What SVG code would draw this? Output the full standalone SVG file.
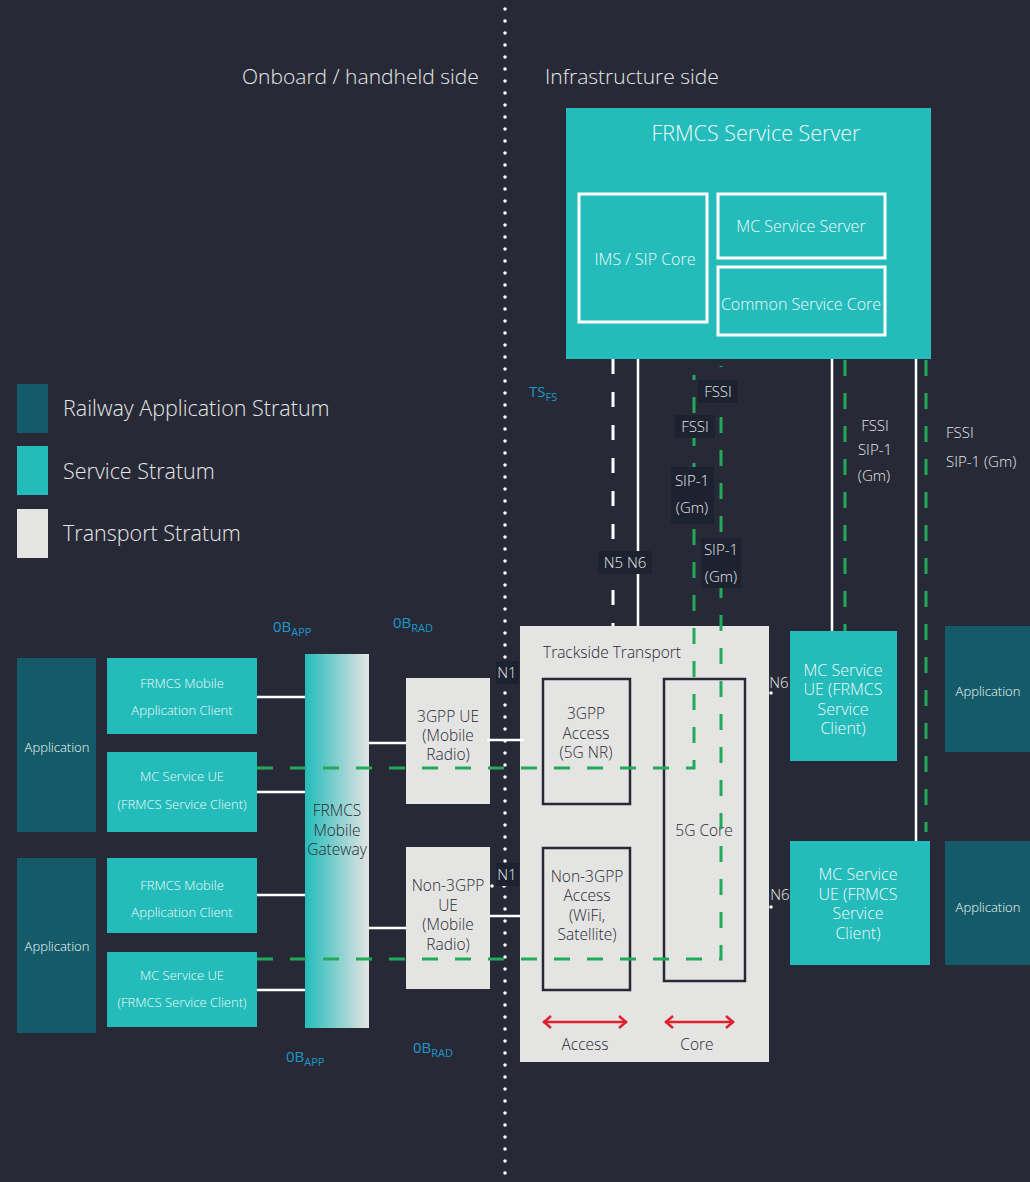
<svg xmlns="http://www.w3.org/2000/svg" width="1030" height="1182" viewBox="0 0 1030 1182">
<style>
text{font-family:"Open Sans","Noto Sans","Liberation Sans",sans-serif;font-weight:300}
.h{fill:#e6e6e8;font-size:21px}
.lg{fill:#e6e6e8;font-size:21.5px}
.w{fill:#f2fafa;text-anchor:middle}
.d{fill:#272a36;text-anchor:middle;font-size:15.5px}
.lab{fill:#e6e6e8;font-size:15px;text-anchor:middle}
.labs{fill:#e6e6e8;font-size:15px;text-anchor:start}
.blue{fill:#1e97c8;font-size:15px;font-weight:400}
.sub{font-size:11px}
.rail{fill:#145a68}
.svc{fill:#23bcba}
.trn{fill:#e4e4e2}
.inner{fill:none;stroke:#ffffff;stroke-width:3}
.inner2{fill:none;stroke:#272a36;stroke-width:2.5}
.wl{stroke:#ffffff;stroke-width:2.5;fill:none}
.wd{stroke:#ffffff;stroke-width:3;fill:none;stroke-dasharray:15 18}
.gd{stroke:#22a95a;stroke-width:3;fill:none;stroke-dasharray:16 17}
.dot{stroke:#ffffff;stroke-width:3.5;fill:none;stroke-linecap:round;stroke-dasharray:0 12}
.lbg{fill:#1d2230}
.red{stroke:#e0202e;stroke-width:2.5;fill:none}
</style>
<defs>
<linearGradient id="gw" x1="0" y1="0" x2="1" y2="0">
<stop offset="0" stop-color="#23bcba"/>
<stop offset="1" stop-color="#e4e4e2"/>
</linearGradient>
</defs>
<rect width="1030" height="1182" fill="#272a36"/>

<line class="dot" x1="505" y1="9" x2="505" y2="1182"/>
<text class="h" x="242" y="84">Onboard / handheld side</text>
<text class="h" x="545" y="84">Infrastructure side</text>

<g id="legend">
<rect class="rail" x="17" y="384" width="31" height="49"/>
<rect class="svc" x="17" y="446" width="31" height="49"/>
<rect class="trn" x="17" y="509" width="31" height="49"/>
<text class="lg" x="63" y="416">Railway Application Stratum</text>
<text class="lg" x="63" y="479">Service Stratum</text>
<text class="lg" x="63" y="541">Transport Stratum</text>
</g>

<g id="frmcs-service-server">
<rect class="svc" x="566" y="108" width="365" height="251"/>
<text class="w" x="756" y="141" font-size="21.5">FRMCS Service Server</text>
</g>
<g id="ims-sip-core">
<rect class="inner" x="579" y="194" width="128" height="128"/>
<text class="w" x="645" y="265" font-size="16">IMS / SIP Core</text>
</g>
<g id="mc-service-server">
<rect class="inner" x="718" y="194" width="167" height="64"/>
<text class="w" x="801" y="232" font-size="16">MC Service Server</text>
</g>
<g id="common-service-core">
<rect class="inner" x="718" y="267" width="167" height="68"/>
<text class="w" x="801" y="310" font-size="16">Common Service Core</text>
</g>

<g id="application-1">
<rect class="rail" x="17" y="658" width="79" height="174"/>
<text class="w" x="57" y="752" font-size="13">Application</text>
</g>
<g id="mobile-app-client-1">
<rect class="svc" x="107" y="658" width="150" height="76"/>
<text class="w" x="182" y="688" font-size="13">FRMCS Mobile</text>
<text class="w" x="182" y="715" font-size="13">Application Client</text>
</g>
<g id="mc-service-ue-1">
<rect class="svc" x="107" y="752" width="150" height="80"/>
<text class="w" x="182" y="781" font-size="13">MC Service UE</text>
<text class="w" x="182" y="809" font-size="13">(FRMCS Service Client)</text>
</g>
<g id="application-2">
<rect class="rail" x="17" y="858" width="79" height="175"/>
<text class="w" x="57" y="951" font-size="13">Application</text>
</g>
<g id="mobile-app-client-2">
<rect class="svc" x="107" y="858" width="150" height="75"/>
<text class="w" x="182" y="890" font-size="13">FRMCS Mobile</text>
<text class="w" x="182" y="917" font-size="13">Application Client</text>
</g>
<g id="mc-service-ue-2">
<rect class="svc" x="107" y="952" width="150" height="75"/>
<text class="w" x="182" y="980" font-size="13">MC Service UE</text>
<text class="w" x="182" y="1007" font-size="13">(FRMCS Service Client)</text>
</g>

<g id="mobile-gateway">
<rect x="305" y="654" width="64" height="374" fill="url(#gw)"/>
<text class="d" x="337" y="816">FRMCS</text>
<text class="d" x="337" y="836">Mobile</text>
<text class="d" x="337" y="855">Gateway</text>
</g>

<g id="ue-3gpp">
<rect class="trn" x="406" y="678" width="84" height="126"/>
<text class="d" x="448" y="722">3GPP UE</text>
<text class="d" x="448" y="741">(Mobile</text>
<text class="d" x="448" y="760">Radio)</text>
</g>
<g id="ue-non3gpp">
<rect class="trn" x="406" y="847" width="84" height="142"/>
<text class="d" x="448" y="891">Non-3GPP</text>
<text class="d" x="448" y="911">UE</text>
<text class="d" x="448" y="930">(Mobile</text>
<text class="d" x="448" y="950">Radio)</text>
</g>

<g id="trackside-transport">
<rect class="trn" x="520" y="626" width="249" height="436"/>
<text x="543" y="658" fill="#272a36" font-size="15.5">Trackside Transport</text>
<text class="d" x="585" y="1050">Access</text>
<text class="d" x="697" y="1050">Core</text>
</g>
<g id="access-3gpp">
<rect class="inner2" x="543" y="679" width="87" height="125"/>
<text class="d" x="586" y="719">3GPP</text>
<text class="d" x="586" y="739">Access</text>
<text class="d" x="586" y="758">(5G NR)</text>
</g>
<g id="access-non3gpp">
<rect class="inner2" x="543" y="848" width="87" height="142"/>
<text class="d" x="587" y="882">Non-3GPP</text>
<text class="d" x="587" y="901">Access</text>
<text class="d" x="587" y="921">(WiFi,</text>
<text class="d" x="587" y="940">Satellite)</text>
</g>
<g id="core-5g">
<rect class="inner2" x="664" y="679" width="81" height="302"/>
<text class="d" x="704" y="836">5G Core</text>
</g>

<g id="mc-service-ue-r1">
<rect class="svc" x="790" y="631" width="107" height="130"/>
<text class="w" x="843" y="676" font-size="16">MC Service</text>
<text class="w" x="843" y="695" font-size="16">UE (FRMCS</text>
<text class="w" x="843" y="715" font-size="16">Service</text>
<text class="w" x="843" y="734" font-size="16">Client)</text>
</g>
<g id="mc-service-ue-r2">
<rect class="svc" x="790" y="841" width="140" height="124"/>
<text class="w" x="858" y="880" font-size="16">MC Service</text>
<text class="w" x="858" y="900" font-size="16">UE (FRMCS</text>
<text class="w" x="858" y="919" font-size="16">Service</text>
<text class="w" x="858" y="939" font-size="16">Client)</text>
</g>
<g id="application-r1">
<rect class="rail" x="945" y="626" width="85" height="126"/>
<text class="w" x="988" y="696" font-size="13">Application</text>
</g>
<g id="application-r2">
<rect class="rail" x="945" y="841" width="85" height="124"/>
<text class="w" x="988" y="912" font-size="13">Application</text>
</g>

<g id="connectors">
<line class="wl" x1="257" y1="697" x2="305" y2="697"/>
<line class="wl" x1="257" y1="792" x2="305" y2="792"/>
<line class="wl" x1="257" y1="895" x2="305" y2="895"/>
<line class="wl" x1="257" y1="990" x2="305" y2="990"/>
<line class="wl" x1="369" y1="743" x2="406" y2="743"/>
<line class="wl" x1="369" y1="928" x2="406" y2="928"/>
<line class="wl" x1="487" y1="740" x2="524" y2="740"/>
<line class="wl" x1="490" y1="916" x2="520" y2="916"/>
<line class="dot" x1="492" y1="886" x2="516" y2="886"/>
<line class="dot" x1="771" y1="693" x2="783" y2="693"/>
<line class="dot" x1="771" y1="907" x2="783" y2="907"/>

<line class="wd" x1="613" y1="359" x2="613" y2="626"/>
<line class="wl" x1="638" y1="359" x2="638" y2="626"/>
<line class="wl" x1="832" y1="359" x2="832" y2="631"/>
<line class="wl" x1="916" y1="359" x2="916" y2="841"/>

<line class="gd" x1="845" y1="360" x2="845" y2="631"/>
<line class="gd" x1="926" y1="360" x2="926" y2="832"/>
<polyline class="gd" points="257,768 694,768 694,375"/>
<polyline class="gd" points="257,959 721,959 721,366"/>

<polyline class="red" points="543,1022 627,1022"/>
<polyline class="red" points="551,1016 544,1022 551,1028"/>
<polyline class="red" points="619,1016 626,1022 619,1028"/>
<polyline class="red" points="665,1022 734,1022"/>
<polyline class="red" points="673,1016 666,1022 673,1028"/>
<polyline class="red" points="726,1016 733,1022 726,1028"/>
</g>

<g id="labels">
<rect class="lbg" x="698" y="380" width="40" height="23"/>
<text class="lab" x="718" y="397">FSSI</text>
<rect class="lbg" x="675" y="415" width="40" height="23"/>
<text class="lab" x="695" y="432">FSSI</text>
<rect class="lbg" x="671" y="467" width="43" height="57"/>
<text class="lab" x="692" y="486">SIP-1</text>
<text class="lab" x="692" y="513">(Gm)</text>
<rect class="lbg" x="701" y="538" width="40" height="50"/>
<text class="lab" x="721" y="555">SIP-1</text>
<text class="lab" x="721" y="582">(Gm)</text>
<rect class="lbg" x="598" y="551" width="54" height="23"/>
<text class="lab" x="625" y="568">N5 N6</text>
<rect class="lbg" x="496" y="661" width="23" height="23"/>
<text class="lab" x="507" y="678">N1</text>
<rect class="lbg" x="496" y="863" width="23" height="23"/>
<text class="lab" x="507" y="880">N1</text>
<text class="lab" x="779" y="688">N6</text>
<text class="lab" x="780" y="900">N6</text>
<text class="lab" x="875" y="431">FSSI</text>
<text class="lab" x="875" y="455">SIP-1</text>
<text class="lab" x="874" y="481">(Gm)</text>
<text class="labs" x="946" y="438">FSSI</text>
<text class="labs" x="946" y="467">SIP-1 (Gm)</text>
<text class="blue" x="529" y="397">TS<tspan class="sub" dy="4">FS</tspan></text>
<text class="blue" x="273" y="632">0B<tspan class="sub" dy="4">APP</tspan></text>
<text class="blue" x="393" y="628">0B<tspan class="sub" dy="4">RAD</tspan></text>
<text class="blue" x="286" y="1062">0B<tspan class="sub" dy="4">APP</tspan></text>
<text class="blue" x="413" y="1053">0B<tspan class="sub" dy="4">RAD</tspan></text>
</g>
</svg>
